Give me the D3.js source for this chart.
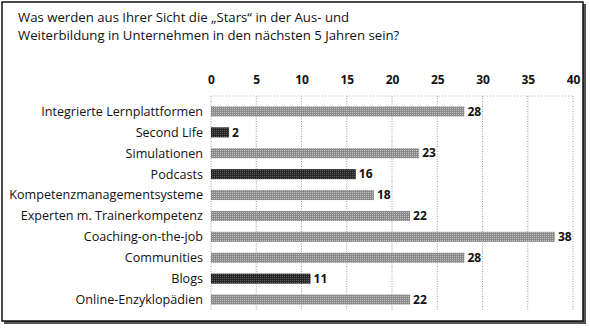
<!DOCTYPE html>
<html><head><meta charset="utf-8">
<script src="https://cdn.jsdelivr.net/npm/d3@7"></script>
<style>
html,body{margin:0;padding:0;background:#fff;}
text{font-family:"Open Sans",Lato,sans-serif;fill:#111;}
</style></head>
<body><svg id="c" width="590" height="328"></svg>
<script>
const categories = ["Integrierte Lernplattformen","Second Life","Simulationen","Podcasts","Kompetenzmanagementsysteme","Experten m. Trainerkompetenz","Coaching-on-the-job","Communities","Blogs","Online-Enzyklopädien"];
const values = [28,2,23,16,18,22,38,28,11,22];
const dark = [false,true,false,true,false,false,false,false,true,false];
const ticks = [0,5,10,15,20,25,30,35,40];
const titleLines = ["Was werden aus Ihrer Sicht die „Stars“ in der Aus- und","Weiterbildung in Unternehmen in den nächsten 5 Jahren sein?"];

const svg = d3.select("#c");
const defs = svg.append("defs");
function pat(id, a, b){
  const p = defs.append("pattern").attr("id",id).attr("width",2).attr("height",2).attr("patternUnits","userSpaceOnUse");
  p.append("rect").attr("width",2).attr("height",2).attr("fill",a);
  p.append("rect").attr("width",1).attr("height",1).attr("fill",b);
}
pat("pl","#8a8a8a","#c2c2c2");
pat("pd","#262626","#5e5e5e");

// frame
svg.append("rect").attr("x",4).attr("y",4).attr("width",582).attr("height",320).attr("fill","#555");
svg.append("rect").attr("x",2).attr("y",2).attr("width",581).attr("height",319).attr("fill","#fff").attr("stroke","#111").attr("stroke-width",1.5);

svg.selectAll("text.title").data(titleLines).join("text").attr("class","title")
  .attr("x",18).attr("y",(d,i)=>22+i*18).attr("font-size",13.2).text(d=>d);

const x = d3.scaleLinear().domain([0,40]).range([211,573]);
const y = d3.scaleBand().domain(categories).range([101,310]).paddingInner(0.52).paddingOuter(0.26);

const gTop=96, gBot=311;
svg.append("g").selectAll("line").data(ticks).join("line")
  .attr("x1",d=>x(d)).attr("x2",d=>x(d)).attr("y1",gTop).attr("y2",gBot)
  .attr("stroke","#999").attr("stroke-width",1).attr("stroke-dasharray","1,1.5");
svg.append("line").attr("x1",x(0)).attr("x2",x(40)).attr("y1",gTop).attr("y2",gTop)
  .attr("stroke","#bbb").attr("stroke-dasharray","1,2");

const ax = d3.axisTop(x).tickValues(ticks).tickSize(0).tickPadding(0).tickFormat(d3.format("d"));
const ag = svg.append("g").attr("transform","translate(0,84)").call(ax);
ag.select(".domain").remove();
ag.selectAll("text").attr("font-size",12).attr("font-weight","bold").attr("fill","#111").attr("font-family","'Open Sans',sans-serif");

const rows = svg.append("g").selectAll("g").data(categories).join("g");
rows.append("rect").attr("x",x(0)).attr("y",d=>y(d)).attr("height",y.bandwidth())
  .attr("width",(d,i)=>x(values[i])-x(0)).attr("fill",(d,i)=>dark[i]?"url(#pd)":"url(#pl)");
rows.append("text").attr("x",203).attr("y",d=>y(d)+y.bandwidth()/2)
  .attr("dy","0.35em").attr("text-anchor","end").attr("font-size",12.6).attr("fill","#000").text(d=>d);
rows.append("text").attr("x",(d,i)=>x(values[i])+3).attr("y",d=>y(d)+y.bandwidth()/2)
  .attr("dy","0.35em").attr("font-size",12).attr("font-weight","bold").text((d,i)=>values[i]);
</script></body></html>
